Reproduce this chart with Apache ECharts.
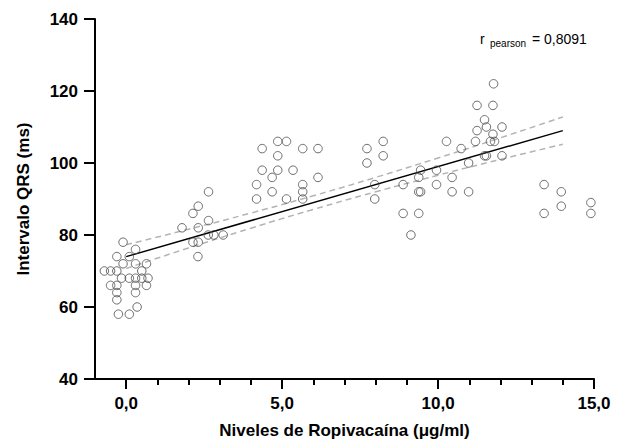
<!DOCTYPE html>
<html><head><meta charset="utf-8">
<script src="https://cdn.jsdelivr.net/npm/echarts@6/dist/echarts.min.js"></script>
<style>html,body{margin:0;padding:0;background:#fff}#c{width:624px;height:440px}</style>
</head><body><div id="c"></div>
<script>
// Ropivacaine levels (µg/ml) and QRS interval (ms)
const ropivacaine = [
  -0.1, 0.3, -0.3, 0.1, -0.1, 0.3, 0.65, -0.7, -0.5, -0.3, 0.5, -0.15, 0.1, 0.3, 0.5, 0.7, -0.5, -0.3, 0.3, 0.65, -0.3, 0.3, -0.3, 0.35, -0.25, 0.1,
  2.64, 2.31, 2.14, 2.64, 1.79, 2.31, 2.63, 2.81, 3.11, 2.14, 2.31, 2.3,
  4.86, 5.14, 4.36, 5.66, 6.15, 4.86, 4.36, 4.86, 5.35, 4.68, 6.15, 4.18, 5.66, 4.68, 5.66, 4.18, 5.14, 5.66,
  7.72, 7.72, 8.24, 8.24, 7.97, 7.97, 8.88, 8.88, 9.13, 9.38, 9.38, 9.38, 9.44, 9.44, 9.95, 9.95, 10.27, 10.45, 10.45, 10.74, 10.98, 10.98,
  11.78, 11.25, 11.76, 11.49, 11.55, 12.05, 11.25, 11.76, 11.2, 11.68, 11.81, 11.49, 11.55, 12.05,
  13.4, 13.4, 13.95, 13.95, 14.9, 14.9
];
const qrs = [
  78, 76, 74, 74, 72, 72, 72, 70, 70, 70, 70, 68, 68, 68, 68, 68, 66, 66, 66, 66, 64, 64, 62, 60, 58, 58,
  92, 88, 86, 84, 82, 82, 80, 80, 80, 78, 78, 74,
  106, 106, 104, 104, 104, 102, 98, 98, 98, 96, 96, 94, 94, 92, 92, 90, 90, 90,
  104, 100, 106, 102, 94, 90, 94, 86, 80, 86, 96, 92, 92, 98, 98, 94, 106, 96, 92, 104, 100, 92,
  122, 116, 116, 112, 110, 110, 109, 108, 106, 106, 106, 102, 102, 102,
  94, 86, 92, 88, 89, 86
];
// Regression line and its 95% confidence band
const fitX = [0, 14];
const fitY = [74, 109];
const ciX = [0, 2, 4, 6, 8, 10, 12, 14];
const ciUpper = [77.3, 81.6, 86.1, 90.9, 96.0, 101.4, 107.0, 112.8];
const ciLower = [70.7, 76.4, 81.9, 87.1, 92.0, 96.6, 101.0, 105.2];
// Axis ticks
const xMajorTicks = [0, 5, 10, 15];
const xMinorTicks = [1, 2, 3, 4, 6, 7, 8, 9, 11, 12, 13, 14];
const yTicks = [40, 60, 80, 100, 120, 140];
const xTitle = 'Niveles de Ropivacaína (μg/ml)';
const yTitle = 'Intervalo QRS (ms)';
const rLabel = ['r', 'pearson', '= 0,8091'];

const FONT = "'Liberation Sans', Arial, Helvetica, sans-serif";
const zip = (a, b) => a.map((v, i) => [v, b[i]]);

const chart = echarts.init(document.getElementById('c'), null, { renderer: 'svg' });
chart.setOption({
  animation: false,
  backgroundColor: '#fff',
  grid: { left: 95, right: 30, top: 19, bottom: 61, containLabel: false, outerBoundsMode: 'none' },
  xAxis: [{
    type: 'value', min: -1, max: 15,
    axisLine: { show: true, onZero: false, lineStyle: { color: '#000', width: 2 } },
    axisTick: { show: true, customValues: xMajorTicks, length: 10, lineStyle: { color: '#000', width: 2 } },
    axisLabel: {
      customValues: xMajorTicks, margin: 16, color: '#000', fontSize: 17, fontWeight: 'bold', fontFamily: FONT,
      formatter: v => v.toFixed(1).replace('.', ',')
    },
    splitLine: { show: false }
  }, {
    type: 'value', min: -1, max: 15, position: 'bottom', gridIndex: 0,
    axisLine: { show: false, onZero: false },
    axisTick: { show: true, customValues: xMinorTicks, length: 6, lineStyle: { color: '#000', width: 2 } },
    axisLabel: { show: false },
    splitLine: { show: false }
  }],
  yAxis: {
    type: 'value', min: yTicks[0], max: yTicks[yTicks.length - 1], interval: 20,
    axisLine: { show: true, onZero: false, lineStyle: { color: '#000', width: 2 } },
    axisTick: { show: true, length: 11, lineStyle: { color: '#000', width: 2 } },
    axisLabel: { margin: 17, color: '#000', fontSize: 17, fontWeight: 'bold', fontFamily: FONT },
    splitLine: { show: false }
  },
  series: [
    {
      type: 'line', data: zip(ciX, ciUpper), smooth: true, symbol: 'none', z: 2,
      lineStyle: { color: '#b4b4b4', width: 1.5, type: [6, 4] }
    },
    {
      type: 'line', data: zip(ciX, ciLower), smooth: true, symbol: 'none', z: 2,
      lineStyle: { color: '#b4b4b4', width: 1.5, type: [6, 4] }
    },
    {
      type: 'line', data: zip(fitX, fitY), symbol: 'none', z: 3,
      lineStyle: { color: '#000', width: 1.5 }
    },
    {
      type: 'scatter', data: zip(ropivacaine, qrs), symbol: 'circle', symbolSize: 8.5, z: 4, clip: false,
      itemStyle: { color: 'rgba(0,0,0,0)', borderColor: '#4a4a4a', borderWidth: 1 }
    }
  ],
  graphic: [
    { type: 'text', x: 23, y: 199, rotation: Math.PI / 2,
      style: { text: yTitle, fontSize: 17, fontWeight: 'bold', fontFamily: FONT, fill: '#000', align: 'center', verticalAlign: 'middle' } },
    { type: 'text', x: 344.5, y: 430,
      style: { text: xTitle, fontSize: 17, fontWeight: 'bold', fontFamily: FONT, fill: '#000', align: 'center', verticalAlign: 'middle' } },
    { type: 'text', x: 480, y: 39,
      style: { text: rLabel[0], fontSize: 14, fontFamily: FONT, fill: '#000', align: 'left', verticalAlign: 'middle' } },
    { type: 'text', x: 490, y: 43.5,
      style: { text: rLabel[1], fontSize: 10, fontFamily: FONT, fill: '#000', align: 'left', verticalAlign: 'middle' } },
    { type: 'text', x: 532, y: 39,
      style: { text: rLabel[2], fontSize: 14, fontFamily: FONT, fill: '#000', align: 'left', verticalAlign: 'middle' } }
  ]
});
</script></body></html>
